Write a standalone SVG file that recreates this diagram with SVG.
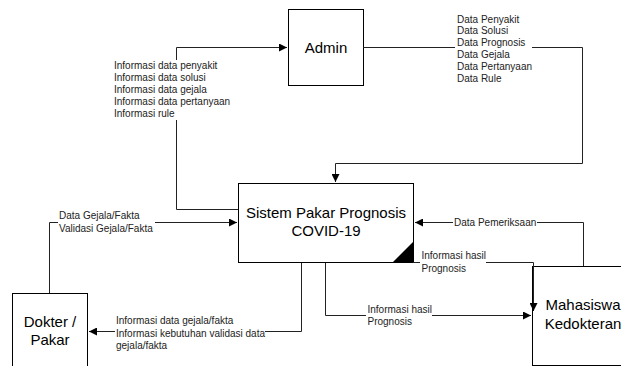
<svg xmlns="http://www.w3.org/2000/svg" width="621" height="366" viewBox="0 0 621 366">
<defs>
<style>
.box{fill:#fff;stroke:#000;stroke-width:1}
.ttl{font-family:"Liberation Sans",Arial,sans-serif;font-size:15px;fill:#000;text-anchor:middle}
.ln{fill:none;stroke:#222;stroke-width:1}
.lbl{font-family:"Liberation Sans",Arial,sans-serif;font-size:10px;fill:#222}
.bg{fill:#fff}
</style>
<marker id="arr" markerUnits="userSpaceOnUse" markerWidth="9" markerHeight="8" refX="8" refY="4" orient="auto">
<path d="M0,0 L8,4 L0,8 z" fill="#000"/>
</marker>
</defs>
<rect width="621" height="366" fill="#fff"/>
<g id="admin">
<rect class="box" x="288.5" y="9.5" width="75" height="76"/>
<text class="ttl" x="326" y="53">Admin</text>
</g>
<g id="sistem">
<rect class="box" x="238.5" y="183.5" width="175" height="79"/>
<text class="ttl" x="326" y="218">Sistem Pakar Prognosis</text>
<text class="ttl" x="326" y="236">COVID-19</text>
<polygon points="392,263 414,241 414,263" fill="#000"/>
</g>
<g id="dokter">
<rect class="box" x="12.5" y="293.5" width="75" height="90"/>
<text class="ttl" x="50" y="327">Dokter /</text>
<text class="ttl" x="50" y="345">Pakar</text>
</g>
<g id="mahasiswa">
<rect class="box" x="532.5" y="266.5" width="100" height="99"/>
<text class="ttl" x="583" y="310">Mahasiswa</text>
<text class="ttl" x="583" y="329">Kedokteran</text>
</g>
<g id="connectors">
<polyline class="ln" points="238,209.5 176.5,209.5 176.5,47.5 287,47.5" marker-end="url(#arr)"/>
<polyline class="ln" points="363,47.5 582.5,47.5 582.5,163.5 335.5,163.5 335.5,182" marker-end="url(#arr)"/>
<polyline class="ln" points="49.5,293 49.5,222.5 237,222.5" marker-end="url(#arr)"/>
<polyline class="ln" points="301.5,263 301.5,331.5 89,331.5" marker-end="url(#arr)"/>
<polyline class="ln" points="583.5,266 583.5,222.5 415,222.5" marker-end="url(#arr)"/>
<polyline class="ln" points="413,262.5 533.5,262.5 533.5,311" marker-end="url(#arr)"/>
<polyline class="ln" points="325.5,263 325.5,315.5 531,315.5" marker-end="url(#arr)"/>
</g>
<g id="labels">
<rect class="bg" x="112" y="60" width="121" height="60"/>
<text class="lbl" x="114" y="68.5">Informasi data penyakit</text>
<text class="lbl" x="114" y="80.5">Informasi data solusi</text>
<text class="lbl" x="114" y="92.5">Informasi data gejala</text>
<text class="lbl" x="114" y="104.5">Informasi data pertanyaan</text>
<text class="lbl" x="114" y="116.5">Informasi rule</text>
<rect class="bg" x="455" y="12" width="77" height="72"/>
<text class="lbl" x="457" y="22.5">Data Penyakit</text>
<text class="lbl" x="457" y="34.3">Data Solusi</text>
<text class="lbl" x="457" y="46.1">Data Prognosis</text>
<text class="lbl" x="457" y="57.9">Data Gejala</text>
<text class="lbl" x="457" y="69.7">Data Pertanyaan</text>
<text class="lbl" x="457" y="81.5">Data Rule</text>
<rect class="bg" x="58" y="208" width="97" height="27"/>
<text class="lbl" x="59" y="218.5">Data Gejala/Fakta</text>
<text class="lbl" x="59" y="231.5">Validasi Gejala/Fakta</text>
<rect class="bg" x="115" y="314" width="150" height="36"/>
<text class="lbl" x="116" y="324">Informasi data gejala/fakta</text>
<text class="lbl" x="116" y="336.5">Informasi kebutuhan validasi data</text>
<text class="lbl" x="116" y="348.5">gejala/fakta</text>
<rect class="bg" x="453" y="216" width="84" height="12"/>
<text class="lbl" x="454" y="225.5">Data Pemeriksaan</text>
<rect class="bg" x="420" y="249" width="66" height="24"/>
<text class="lbl" x="421.5" y="259">Informasi hasil</text>
<text class="lbl" x="421.5" y="271.5">Prognosis</text>
<rect class="bg" x="366" y="302" width="66" height="25"/>
<text class="lbl" x="367.5" y="312.5">Informasi hasil</text>
<text class="lbl" x="367.5" y="325">Prognosis</text>
</g>
</svg>
